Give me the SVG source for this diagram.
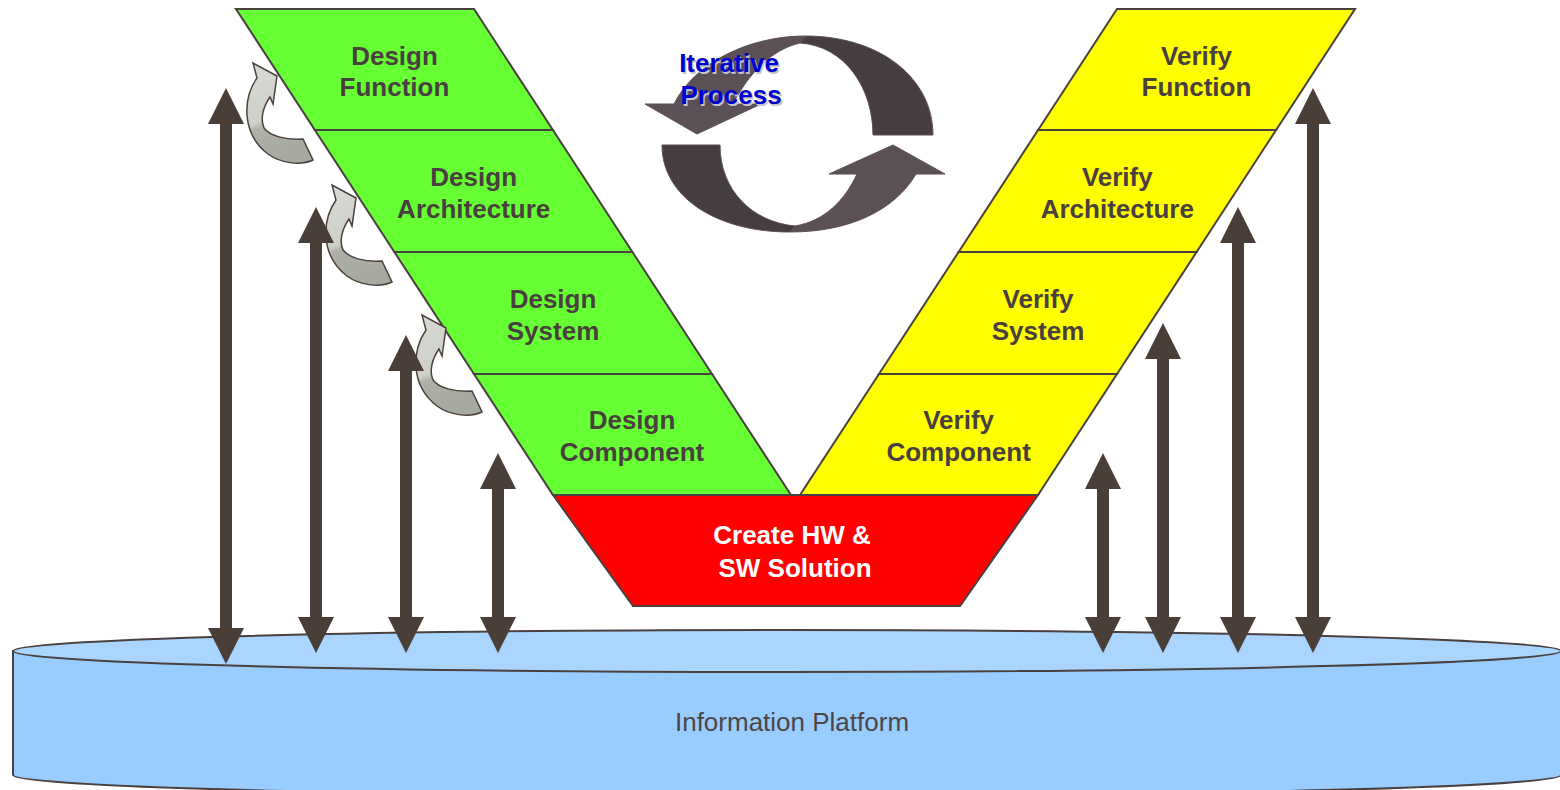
<svg xmlns="http://www.w3.org/2000/svg" width="1560" height="790" viewBox="0 0 1560 790">
<defs>
<style>
.band{stroke:#4a4040;stroke-width:2;stroke-linejoin:miter}
.g{fill:#66ff33}
.y{fill:#ffff00}
.lbl{font-family:"Liberation Sans",Arial,sans-serif;font-weight:bold;font-size:26px;fill:#4a3f3f;text-anchor:middle}
.wlbl{font-family:"Liberation Sans",Arial,sans-serif;font-weight:bold;font-size:26px;fill:#ffffff;text-anchor:middle}
.dbl{fill:#4a3f38}
.small{stroke:#4d403a;stroke-width:1.5;fill:url(#sg);stroke-linejoin:miter}
.it{stroke:#5a5050;stroke-width:1}
</style>
<linearGradient id="sg" x1="0" y1="0" x2="0.25" y2="1">
<stop offset="0" stop-color="#d8dbd5"/>
<stop offset="0.6" stop-color="#cdd0c9"/>
<stop offset="0.66" stop-color="#adb1a7"/>
<stop offset="1" stop-color="#a6aaa0"/>
</linearGradient>
<path id="sa" d="M313,160 C300,166 280,163 268,154 C255,144 248,130 247,115 C246,100 250,88 257,78 L253,63 L277,76 L273,104 L270,97 C263,107 260,119 264,128 C270,136 285,140 303,139 Z"/>
</defs>

<g id="platform">
<path d="M13,651 L13,775 A774,21 0 0 0 1561,775 L1561,651 Z" fill="#99ccff" stroke="#4a4040" stroke-width="2"/>
<ellipse cx="787" cy="651" rx="774" ry="21" fill="#aad5ff" stroke="#4a4040" stroke-width="2"/>
<text x="792" y="731" font-family="'Liberation Sans',Arial,sans-serif" font-size="26" fill="#4d4545" text-anchor="middle">Information Platform</text>
</g>

<g id="design-function">
<polygon class="band g" points="236,9 474,9 552.9,130 314.9,130"/>
<text class="lbl" x="394.5" y="64.5">Design</text>
<text class="lbl" x="394.5" y="96">Function</text>
</g>
<g id="design-architecture">
<polygon class="band g" points="314.9,130 552.9,130 632.4,252 394.4,252"/>
<text class="lbl" x="473.7" y="186">Design</text>
<text class="lbl" x="473.7" y="218">Architecture</text>
</g>
<g id="design-system">
<polygon class="band g" points="394.4,252 632.4,252 712,374 474,374"/>
<text class="lbl" x="553" y="307.5">Design</text>
<text class="lbl" x="553" y="339.5">System</text>
</g>
<g id="design-component">
<polygon class="band g" points="474,374 712,374 791,495 553,495"/>
<text class="lbl" x="632" y="429">Design</text>
<text class="lbl" x="632" y="461">Component</text>
</g>

<g id="verify-function">
<polygon class="band y" points="1117,9 1355,9 1276.1,130 1038.1,130"/>
<text class="lbl" x="1196.5" y="64.5">Verify</text>
<text class="lbl" x="1196.5" y="96">Function</text>
</g>
<g id="verify-architecture">
<polygon class="band y" points="1038.1,130 1276.1,130 1196.6,252 958.6,252"/>
<text class="lbl" x="1117.3" y="186">Verify</text>
<text class="lbl" x="1117.3" y="218">Architecture</text>
</g>
<g id="verify-system">
<polygon class="band y" points="958.6,252 1196.6,252 1117,374 879,374"/>
<text class="lbl" x="1038" y="307.5">Verify</text>
<text class="lbl" x="1038" y="339.5">System</text>
</g>
<g id="verify-component">
<polygon class="band y" points="879,374 1117,374 1038,495 800,495"/>
<text class="lbl" x="958.6" y="429">Verify</text>
<text class="lbl" x="958.6" y="461">Component</text>
</g>

<g id="create-solution">
<polygon class="band" fill="#ff0000" points="553,495 1038,495 960,606 633,606"/>
<text class="wlbl" x="792" y="544">Create HW &amp;</text>
<text class="wlbl" x="795" y="577">SW Solution</text>
</g>

<g id="iterative-process">
<path class="it" fill="#463d3f" d="M805,36 C880,36 933,78 933,135 L873,135 C873,88 845,46 800,43 Z"/>
<path class="it" fill="#5a5056" d="M805,36 C750,36 695,62 674,104 L645,104 L697,134 L761,104 L733,104 C748,75 770,50 800,43 Z"/>
<path class="it" fill="#463d3f" d="M662,145 L720,145 C720,190 752,222 795,226 L790,232 C715,232 662,196 662,145 Z"/>
<path class="it" fill="#5a5056" d="M790,232 C850,232 895,210 916,174 L945,174 L893,145 L829,174 L857,174 C845,200 825,221 795,226 Z"/>
<text x="730.5" y="73.5" font-family="'Liberation Sans',Arial,sans-serif" font-weight="bold" font-size="26" fill="#c4c4cc" text-anchor="middle">Iterative</text>
<text x="732.5" y="105.5" font-family="'Liberation Sans',Arial,sans-serif" font-weight="bold" font-size="26" fill="#c4c4cc" text-anchor="middle">Process</text>
<text x="729" y="72" font-family="'Liberation Sans',Arial,sans-serif" font-weight="bold" font-size="26" fill="#0000cc" text-anchor="middle">Iterative</text>
<text x="731" y="104" font-family="'Liberation Sans',Arial,sans-serif" font-weight="bold" font-size="26" fill="#0000cc" text-anchor="middle">Process</text>
</g>

<g id="connectors">
<g id="refine-arrows">
<use href="#sa" class="small"/>
<use href="#sa" class="small" transform="translate(79,122)"/>
<use href="#sa" class="small" transform="translate(169,252)"/>
</g>
<g id="platform-links" class="dbl">
<polygon points="226,88 244,124 232,124 232,628 244,628 226,664 208,628 220,628 220,124 208,124"/>
<polygon points="316,207 334,243 322,243 322,617 334,617 316,653 298,617 310,617 310,243 298,243"/>
<polygon points="406,335 424,371 412,371 412,617 424,617 406,653 388,617 400,617 400,371 388,371"/>
<polygon points="498,453 516,489 504,489 504,617 516,617 498,653 480,617 492,617 492,489 480,489"/>
<polygon points="1103,453 1121,489 1109,489 1109,617 1121,617 1103,653 1085,617 1097,617 1097,489 1085,489"/>
<polygon points="1163,323 1181,359 1169,359 1169,617 1181,617 1163,653 1145,617 1157,617 1157,359 1145,359"/>
<polygon points="1238,207 1256,243 1244,243 1244,617 1256,617 1238,653 1220,617 1232,617 1232,243 1220,243"/>
<polygon points="1313,88 1331,124 1319,124 1319,617 1331,617 1313,653 1295,617 1307,617 1307,124 1295,124"/>
</g>
</g>
</svg>
